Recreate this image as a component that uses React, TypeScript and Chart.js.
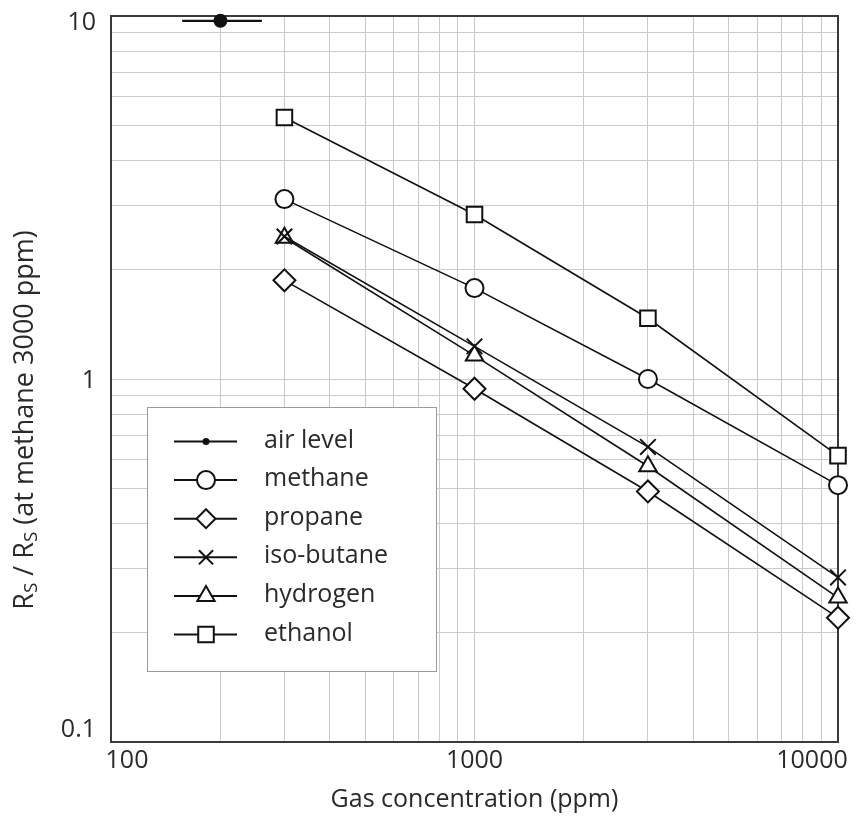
import React, { useEffect, useRef } from 'react';
import { Chart, registerables } from 'chart.js';

Chart.register(...registerables);

// ---- data ----
const concentrations = [300, 1000, 3000, 10000];
const methane = [3.13, 1.78, 1.0, 0.51];
const propane = [1.87, 0.94, 0.49, 0.22];
const isoButane = [2.47, 1.23, 0.65, 0.284];
const hydrogen = [2.45, 1.16, 0.575, 0.25];
const ethanol = [5.25, 2.84, 1.47, 0.615];
const airLevelX = [157, 200, 260];
const airLevelY = [9.7, 9.7, 9.7];

const seriesNames = ['air level', 'methane', 'propane', 'iso-butane', 'hydrogen', 'ethanol'];
const seriesStyles = ['dot', 'circle', 'rectRot', 'crossRot', 'triangle', 'rect'];

const xTickLabels = ['100', '1000', '10000'];
const xTickValues = [100, 1000, 10000];
const yTickLabels = ['0.1', '1', '10'];
const yTickValues = [0.1, 1, 10];
const gridMultipliers = [1, 2, 3, 4, 5, 6, 7, 8, 9];
const xDecades = [100, 1000];
const yDecades = [0.1, 1];

const xAxisTitle = 'Gas concentration (ppm)';
const yAxisTitleParts = [
  { t: 'R', sub: false },
  { t: 'S', sub: true },
  { t: ' / R', sub: false },
  { t: 'S', sub: true },
  { t: ' (at methane 3000 ppm)', sub: false },
];

const xGrid = [...xDecades.flatMap((d) => gridMultipliers.map((m) => d * m)), 10000];
const yGrid = [...yDecades.flatMap((d) => gridMultipliers.map((m) => Math.round(d * m * 10) / 10)), 10];

const FONT = '"Open Sans", "Noto Sans", sans-serif';
const TEXT = '#2a2a2a';
const LINE = '#111';

function drawMarker(ctx: CanvasRenderingContext2D, style: string, x: number, y: number, r: number) {
  ctx.save();
  ctx.strokeStyle = LINE;
  ctx.lineWidth = 2;
  ctx.fillStyle = '#fff';
  ctx.beginPath();
  if (style === 'dot') {
    ctx.fillStyle = LINE;
    ctx.arc(x, y, r, 0, Math.PI * 2);
    ctx.fill();
    ctx.restore();
    return;
  }
  if (style === 'circle') {
    ctx.arc(x, y, r, 0, Math.PI * 2);
  } else if (style === 'rect') {
    const s = Math.SQRT1_2 * r;
    ctx.rect(x - s, y - s, 2 * s, 2 * s);
  } else if (style === 'rectRot') {
    ctx.moveTo(x, y - r);
    ctx.lineTo(x + r, y);
    ctx.lineTo(x, y + r);
    ctx.lineTo(x - r, y);
    ctx.closePath();
  } else if (style === 'triangle') {
    let rad = 0;
    ctx.moveTo(x + Math.sin(rad) * r, y - Math.cos(rad) * r);
    rad += (2 * Math.PI) / 3;
    ctx.lineTo(x + Math.sin(rad) * r, y - Math.cos(rad) * r);
    rad += (2 * Math.PI) / 3;
    ctx.lineTo(x + Math.sin(rad) * r, y - Math.cos(rad) * r);
    ctx.closePath();
  } else if (style === 'crossRot') {
    const s = Math.SQRT1_2 * r;
    ctx.moveTo(x - s, y - s);
    ctx.lineTo(x + s, y + s);
    ctx.moveTo(x + s, y - s);
    ctx.lineTo(x - s, y + s);
    ctx.stroke();
    ctx.restore();
    return;
  }
  ctx.fill();
  ctx.stroke();
  ctx.restore();
}

const legendRadii = [3.5, 9, 9.5, 10, 10, 11];

const decorPlugin = {
  id: 'decor',
  beforeDatasetsDraw(chart: any) {
    const { ctx, chartArea: a } = chart;
    ctx.save();
    ctx.strokeStyle = '#3a3a3a';
    ctx.lineWidth = 2;
    ctx.strokeRect(a.left, a.top, a.right - a.left, a.bottom - a.top);
    ctx.restore();
  },
  afterDraw(chart: any) {
    const { ctx, chartArea: a } = chart;
    const xs = chart.scales.x;
    const ys = chart.scales.y;
    ctx.save();
    ctx.fillStyle = TEXT;
    ctx.font = `25px ${FONT}`;
    // x tick labels
    ctx.textAlign = 'center';
    ctx.textBaseline = 'middle';
    xTickValues.forEach((v, i) => {
      let px = xs.getPixelForValue(v);
      px = Math.min(Math.max(px, a.left + 16), a.right - 26);
      ctx.fillText(xTickLabels[i], px, a.bottom + 19);
    });
    // y tick labels
    ctx.textAlign = 'right';
    yTickValues.forEach((v, i) => {
      let py = ys.getPixelForValue(v);
      py = Math.min(Math.max(py, a.top + 7), a.bottom - 12);
      if (v === 1) py += 2;
      ctx.fillText(yTickLabels[i], a.left - 15, py);
    });
    // x title
    ctx.textAlign = 'center';
    ctx.fillText(xAxisTitle, (a.left + a.right) / 2, 800);
    // y title (rich text, rotated)
    ctx.save();
    ctx.translate(25, 420);
    ctx.rotate(-Math.PI / 2);
    ctx.textAlign = 'left';
    const mainFont = `27px ${FONT}`;
    const subFont = `19px ${FONT}`;
    let total = 0;
    yAxisTitleParts.forEach((p) => {
      ctx.font = p.sub ? subFont : mainFont;
      total += ctx.measureText(p.t).width;
    });
    let cx = -total / 2;
    yAxisTitleParts.forEach((p) => {
      ctx.font = p.sub ? subFont : mainFont;
      ctx.fillText(p.t, cx, p.sub ? 7 : 0);
      cx += ctx.measureText(p.t).width;
    });
    ctx.restore();

    // legend
    const bx = 147, by = 407, bw = 289, bh = 264;
    ctx.fillStyle = '#fff';
    ctx.fillRect(bx, by, bw, bh);
    ctx.strokeStyle = '#9a9a9a';
    ctx.lineWidth = 1;
    ctx.strokeRect(bx + 0.5, by + 0.5, bw, bh);
    const rowStart = 441.5;
    const rowStep = 38.6;
    seriesNames.forEach((name, i) => {
      const y = rowStart + i * rowStep;
      ctx.strokeStyle = LINE;
      ctx.lineWidth = 2;
      ctx.beginPath();
      ctx.moveTo(174, y);
      ctx.lineTo(237, y);
      ctx.stroke();
      drawMarker(ctx, seriesStyles[i], 206, y, legendRadii[i]);
      ctx.fillStyle = TEXT;
      ctx.font = `25px ${FONT}`;
      ctx.textAlign = 'left';
      ctx.textBaseline = 'middle';
      ctx.fillText(name, 264, y - 1);
    });
    ctx.restore();
  },
};

function series(values: number[]) {
  return concentrations.map((x, i) => ({ x, y: values[i] }));
}

export default function App() {
  const ref = useRef<HTMLCanvasElement | null>(null);
  useEffect(() => {
    if (!ref.current) return;
    const common = {
      borderColor: LINE,
      borderWidth: 1.6,
      pointBackgroundColor: '#fff',
      pointBorderColor: LINE,
      pointBorderWidth: 2,
      tension: 0,
      clip: false as any,
      fill: false,
    };
    const chart = new Chart(ref.current, {
      type: 'line',
      data: {
        datasets: [
          {
            ...common,
            label: seriesNames[0],
            data: airLevelX.map((x, i) => ({ x, y: airLevelY[i] })),
            borderWidth: 2.2,
            pointRadius: [0, 6, 0],
            pointBackgroundColor: LINE,
            pointStyle: 'circle',
          },
          { ...common, label: seriesNames[1], data: series(methane), pointStyle: 'circle', pointRadius: 9 },
          { ...common, label: seriesNames[2], data: series(propane), pointStyle: 'rectRot', pointRadius: 11 },
          { ...common, label: seriesNames[3], data: series(isoButane), pointStyle: 'crossRot', pointRadius: 11 },
          { ...common, label: seriesNames[4], data: series(hydrogen), pointStyle: 'triangle', pointRadius: 10 },
          { ...common, label: seriesNames[5], data: series(ethanol), pointStyle: 'rect', pointRadius: 11 },
        ] as any,
      },
      options: {
        animation: false,
        responsive: false,
        devicePixelRatio: 1,
        layout: { padding: { left: 111, right: 19, top: 16, bottom: 77 } },
        plugins: { legend: { display: false }, tooltip: { enabled: false } },
        scales: {
          x: {
            type: 'logarithmic',
            min: 100,
            max: 10000,
            border: { display: false },
            grid: { color: '#cbcbcb', lineWidth: 1, drawTicks: false },
            ticks: { display: false, autoSkip: false },
            afterBuildTicks: (s: any) => {
              s.ticks = xGrid.map((v) => ({ value: v }));
            },
            afterFit: (s: any) => {
              s.height = 0;
            },
          },
          y: {
            type: 'logarithmic',
            min: 0.1,
            max: 10,
            border: { display: false },
            grid: { color: '#cbcbcb', lineWidth: 1, drawTicks: false },
            ticks: { display: false, autoSkip: false },
            afterBuildTicks: (s: any) => {
              s.ticks = yGrid.map((v) => ({ value: v }));
            },
            afterFit: (s: any) => {
              s.width = 0;
            },
          },
        } as any,
      },
      plugins: [decorPlugin],
    });
    return () => chart.destroy();
  }, []);
  return (
    <div style={{ position: 'absolute', left: 0, top: 0, width: 857, height: 819, background: '#fff' }}>
      <canvas ref={ref} width={857} height={819} style={{ display: 'block' }} />
    </div>
  );
}
